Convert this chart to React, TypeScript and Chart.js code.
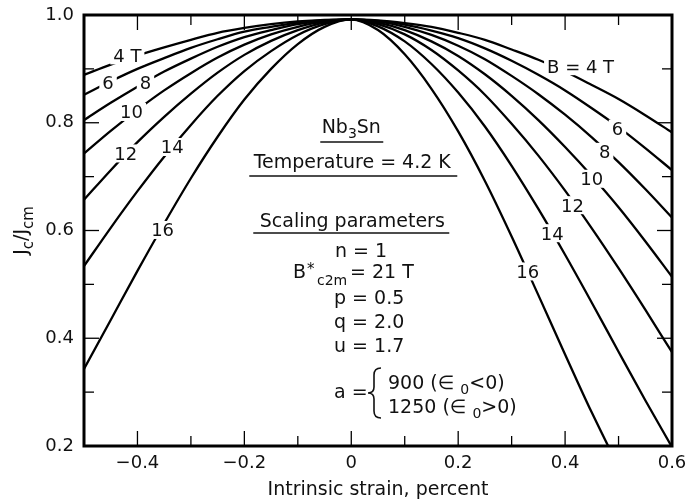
import React, { useEffect, useRef } from 'react';
import { Chart, registerables } from 'chart.js';

Chart.register(...registerables);

// Intrinsic strain (percent)
const strain = [-0.5, -0.45, -0.4, -0.35, -0.3, -0.25, -0.2, -0.15, -0.1, -0.05, 0, 0.05, 0.1, 0.15, 0.2, 0.25, 0.3, 0.35, 0.4, 0.45, 0.5, 0.55, 0.6];

// Jc/Jcm for each field B (T)
const jc4T = [0.889, 0.908, 0.925, 0.94, 0.954, 0.967, 0.976, 0.983, 0.988, 0.991, 0.992, 0.99, 0.985, 0.978, 0.967, 0.954, 0.936, 0.917, 0.895, 0.87, 0.844, 0.814, 0.782];
const jc6T = [0.852, 0.877, 0.9, 0.92, 0.939, 0.955, 0.969, 0.978, 0.986, 0.99, 0.992, 0.989, 0.982, 0.971, 0.957, 0.938, 0.915, 0.889, 0.86, 0.827, 0.792, 0.753, 0.712];
const jc8T = [0.805, 0.837, 0.867, 0.895, 0.919, 0.941, 0.959, 0.972, 0.983, 0.989, 0.992, 0.988, 0.978, 0.963, 0.943, 0.918, 0.887, 0.853, 0.815, 0.773, 0.727, 0.677, 0.624];
const jc10T = [0.743, 0.785, 0.824, 0.86, 0.892, 0.921, 0.945, 0.964, 0.978, 0.988, 0.992, 0.986, 0.972, 0.951, 0.924, 0.89, 0.85, 0.805, 0.755, 0.701, 0.643, 0.58, 0.514];
const jc12T = [0.657, 0.712, 0.764, 0.811, 0.854, 0.893, 0.926, 0.952, 0.972, 0.986, 0.992, 0.983, 0.964, 0.935, 0.897, 0.852, 0.798, 0.739, 0.674, 0.604, 0.53, 0.453, 0.374];
const jc14T = [0.534, 0.605, 0.673, 0.737, 0.796, 0.85, 0.896, 0.933, 0.963, 0.983, 0.992, 0.979, 0.951, 0.909, 0.856, 0.793, 0.72, 0.64, 0.555, 0.466, 0.375, 0.285, 0.198];
const jc16T = [0.343, 0.434, 0.525, 0.613, 0.697, 0.774, 0.843, 0.9, 0.946, 0.978, 0.992, 0.972, 0.927, 0.863, 0.784, 0.692, 0.589, 0.48, 0.37, 0.262, 0.163, 0.08, 0.022];

const series = [jc4T, jc6T, jc8T, jc10T, jc12T, jc14T, jc16T];
const fieldsT = [4, 6, 8, 10, 12, 14, 16];

// Inline curve labels (data coordinates)
const labelText = ['4 T', '6', '8', '10', '12', '14', '16', 'B = 4 T', '6', '8', '10', '12', '14', '16'];
const labelStrain = [-0.419, -0.455, -0.385, -0.411, -0.422, -0.335, -0.353, 0.429, 0.498, 0.474, 0.45, 0.414, 0.376, 0.33];
const labelJc = [0.925, 0.874, 0.874, 0.82, 0.743, 0.755, 0.601, 0.905, 0.789, 0.746, 0.696, 0.647, 0.595, 0.524];

const xMin = -0.5;
const xMax = 0.6;
const yMin = 0.2;
const yMax = 1.0;
const tickStep = 0.1;

const INK = '#111';
const FONT = '"DejaVu Sans", sans-serif';

const fmtX = (v: number) => {
  const n = Math.round(v * 10);
  if (n % 2 !== 0) return '';
  if (n === 0) return '0';
  const s = (Math.abs(n) / 10).toFixed(1);
  return n < 0 ? '\u2212' + s : s;
};
const fmtY = (v: number) => {
  const n = Math.round(v * 10);
  if (n % 2 !== 0) return '';
  return (n / 10).toFixed(1);
};

function drawSeq(ctx: CanvasRenderingContext2D, x: number, parts: [string, number, number][]) {
  let cx = x;
  for (const [t, size, by] of parts) {
    ctx.font = `${size}px ${FONT}`;
    ctx.fillText(t, cx, by);
    cx += ctx.measureText(t).width;
  }
  return cx;
}
function seqWidth(ctx: CanvasRenderingContext2D, parts: [string, number][]) {
  let w = 0;
  for (const [t, size] of parts) {
    ctx.font = `${size}px ${FONT}`;
    w += ctx.measureText(t).width;
  }
  return w;
}

const decorPlugin = {
  id: 'decor',
  afterDatasetsDraw(chart: any) {
    const { ctx, chartArea: a, scales } = chart;
    const xs = scales.x;
    const ys = scales.y;
    ctx.save();

    // inline curve labels with white knock-out boxes
    ctx.font = `18px ${FONT}`;
    ctx.textAlign = 'center';
    ctx.textBaseline = 'alphabetic';
    labelText.forEach((t, i) => {
      const px = xs.getPixelForValue(labelStrain[i]);
      const py = ys.getPixelForValue(labelJc[i]);
      const w = ctx.measureText(t).width;
      ctx.fillStyle = '#fff';
      ctx.fillRect(px - w / 2 - 3, py - 9, w + 6, 18);
      ctx.fillStyle = INK;
      ctx.fillText(t, px, py + 6.5);
    });

    // frame
    ctx.strokeStyle = '#000';
    ctx.lineWidth = 3;
    ctx.strokeRect(a.left, a.top, a.right - a.left, a.bottom - a.top);

    // inward ticks on all four sides
    ctx.lineWidth = 1.3;
    const seg = (x1: number, y1: number, x2: number, y2: number) => {
      ctx.beginPath();
      ctx.moveTo(x1, y1);
      ctx.lineTo(x2, y2);
      ctx.stroke();
    };
    xs.ticks.forEach((t: any) => {
      const n = Math.round(t.value * 10);
      const len = n % 2 === 0 ? 15 : 10;
      const px = xs.getPixelForValue(t.value);
      seg(px, a.bottom, px, a.bottom - len);
      seg(px, a.top, px, a.top + len);
    });
    ys.ticks.forEach((t: any) => {
      const n = Math.round(t.value * 10);
      const len = n % 2 === 0 ? 15 : 10;
      const py = ys.getPixelForValue(t.value);
      seg(a.left, py, a.left + len, py);
      seg(a.right, py, a.right - len, py);
    });

    // y axis title J_c/J_cm (rotated)
    ctx.fillStyle = INK;
    ctx.textAlign = 'left';
    const yParts: [string, number][] = [['J', 19], ['c', 15], ['/J', 19], ['cm', 15]];
    const tw = seqWidth(ctx, yParts);
    ctx.save();
    ctx.translate(27, (a.top + a.bottom) / 2);
    ctx.rotate(-Math.PI / 2);
    drawSeq(ctx, -tw / 2, [['J', 19, 0], ['c', 15, 6], ['/J', 19, 0], ['cm', 15, 6]]);
    ctx.restore();

    // annotation block
    const cx = xs.getPixelForValue(0);
    const L = a.left;
    const T = a.top;
    ctx.strokeStyle = INK;
    ctx.lineWidth = 1.3;

    const nbParts: [string, number][] = [['Nb', 19], ['3', 14], ['Sn', 19]];
    const nbW = seqWidth(ctx, nbParts);
    drawSeq(ctx, cx - nbW / 2, [['Nb', 19, T + 118], ['3', 14, T + 123], ['Sn', 19, T + 118]]);
    seg(cx - 31, T + 127, cx + 32, T + 127);

    ctx.font = `19px ${FONT}`;
    ctx.textAlign = 'center';
    ctx.fillText('Temperature = 4.2 K', cx + 1, T + 153);
    seg(cx - 102, T + 161, cx + 106, T + 161);
    ctx.fillText('Scaling parameters', cx + 1, T + 212);
    seg(cx - 98, T + 218, cx + 98, T + 218);

    ctx.textAlign = 'left';
    ctx.fillText('n = 1', L + 251, T + 242);
    drawSeq(ctx, L + 209, [['B', 19, T + 263]]);
    drawSeq(ctx, L + 223, [['*', 15, T + 259]]);
    drawSeq(ctx, L + 233, [['c2m', 14, T + 270]]);
    drawSeq(ctx, L + 266, [['= 21 T', 19, T + 263]]);
    ctx.font = `19px ${FONT}`;
    ctx.fillText('p = 0.5', L + 250, T + 289);
    ctx.fillText('q = 2.0', L + 250, T + 313);
    ctx.fillText('u = 1.7', L + 250, T + 337);
    ctx.fillText('a =', L + 250, T + 383);

    // curly brace
    const bx = L + 290;
    const by = T + 378;
    ctx.lineWidth = 1.6;
    ctx.beginPath();
    ctx.moveTo(bx + 7, by - 25);
    ctx.quadraticCurveTo(bx, by - 25, bx, by - 18);
    ctx.lineTo(bx, by - 6);
    ctx.quadraticCurveTo(bx, by, bx - 6, by);
    ctx.quadraticCurveTo(bx, by, bx, by + 6);
    ctx.lineTo(bx, by + 18);
    ctx.quadraticCurveTo(bx, by + 25, bx + 7, by + 25);
    ctx.stroke();

    drawSeq(ctx, L + 304, [['900 (\u2208 ', 19, T + 374], ['0', 14, T + 379], ['<0)', 19, T + 374]]);
    drawSeq(ctx, L + 304, [['1250 (\u2208 ', 19, T + 398], ['0', 14, T + 403], ['>0)', 19, T + 398]]);

    ctx.restore();
  },
};

export default function App() {
  const ref = useRef<HTMLCanvasElement | null>(null);

  useEffect(() => {
    if (!ref.current) return;
    const datasets = series.map((arr, k) => ({
      label: `${fieldsT[k]} T`,
      data: strain.map((s, i) => ({ x: s, y: arr[i] })),
      borderColor: '#000',
      borderWidth: 2.3,
      pointRadius: 0,
      fill: false,
      cubicInterpolationMode: 'monotone' as const,
      clip: 0,
    }));
    const chart = new Chart(ref.current, {
      type: 'line',
      data: { datasets },
      options: {
        animation: false,
        responsive: true,
        maintainAspectRatio: false,
        layout: { padding: { top: 15, right: 16, left: 0, bottom: 0 } },
        plugins: { legend: { display: false }, tooltip: { enabled: false } },
        scales: {
          x: {
            type: 'linear',
            min: xMin,
            max: xMax,
            grid: { display: false, drawTicks: false },
            border: { display: false },
            ticks: {
              stepSize: tickStep,
              autoSkip: false,
              maxRotation: 0,
              padding: 7,
              color: INK,
              font: { family: FONT, size: 18 },
              callback: (v: any) => fmtX(Number(v)),
            },
            title: {
              display: true,
              text: 'Intrinsic strain, percent',
              color: INK,
              font: { family: FONT, size: 19 },
              padding: { top: 0, bottom: 2 },
            },
            afterFit: (s: any) => {
              s.height = 57;
              s.paddingLeft = 0;
              s.paddingRight = 0;
            },
          },
          y: {
            type: 'linear',
            min: yMin,
            max: yMax,
            grid: { display: false, drawTicks: false },
            border: { display: false },
            ticks: {
              stepSize: tickStep,
              autoSkip: false,
              padding: 10,
              color: INK,
              font: { family: FONT, size: 18 },
              callback: (v: any) => fmtY(Number(v)),
            },
            afterFit: (s: any) => {
              s.width = 84;
              s.paddingTop = 0;
              s.paddingBottom = 0;
            },
          },
        },
      },
      plugins: [decorPlugin],
    });
    return () => chart.destroy();
  }, []);

  return (
    <div style={{ position: 'fixed', left: 0, top: 0, width: 688, height: 503, background: '#fff' }}>
      <canvas ref={ref} />
    </div>
  );
}
